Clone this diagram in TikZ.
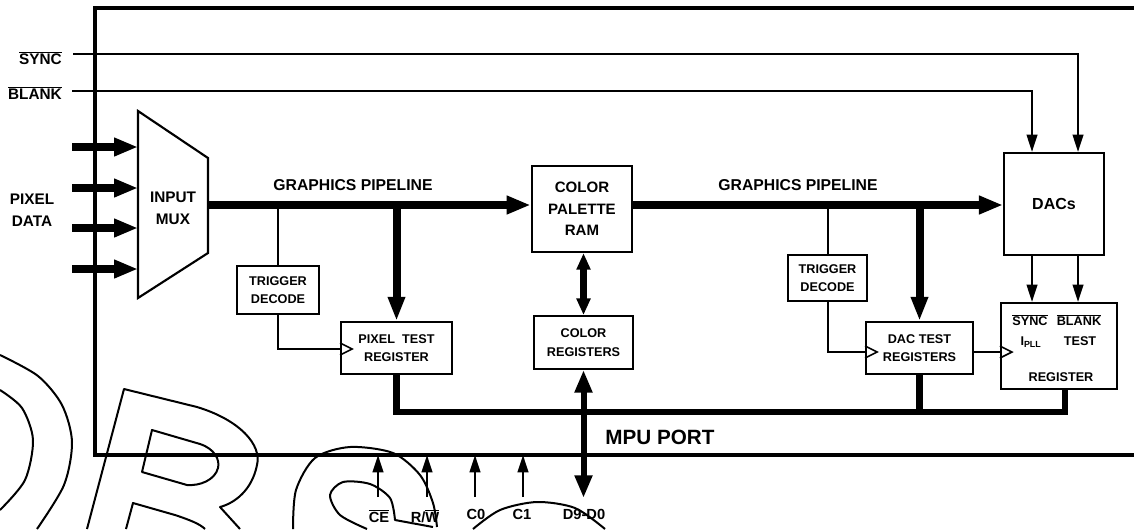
\documentclass[tikz,border=0pt]{standalone}
\usepackage{fontspec}
\setmainfont{Liberation Sans}
\usepackage{tikz}
\usetikzlibrary{arrows.meta,calc}
\newcommand{\ovl}[1]{\ensuremath{\overline{\mbox{#1}}}}

\begin{document}
\begin{tikzpicture}[x=0.75pt,y=-0.75pt,
  box/.style={draw, line width=1.6pt, inner sep=0pt, align=center, font=\bfseries\fontsize{9.5}{14}\selectfont},
  lbl/.style={inner sep=0pt, align=center, font=\bfseries\fontsize{11.5}{16.5}\selectfont},
  small/.style={inner sep=0pt, font=\bfseries\fontsize{9.5}{12}\selectfont},
  pin/.style={inner sep=0pt, font=\bfseries\fontsize{11}{12}\selectfont},
  sig/.style={line width=1.5pt},
  sigarr/.style={sig, -{Triangle[length=13pt,width=8pt]}},
  clk/.style={line width=1.2pt},
  bus/.style={line width=6pt},
  busarr/.style={bus, -{Triangle[length=18pt,width=13pt]}},
  mbus/.style={line width=5pt},
  frame/.style={line width=2.4pt},
  wm/.style={line width=1.5pt, line join=round}
]
\useasboundingbox (0,0) rectangle (1134,529);

% chip outline
\draw[frame] (1140,8) -- (95,8) -- (95,455) -- (1140,455);
\coordinate (fbot) at (95,455);

% input signals
\node[lbl, anchor=east] (sync) at (62,58) {\ovl{SYNC}};
\node[lbl, anchor=east] (blank) at (62,93) {\ovl{BLANK}};
\node[lbl] (pixdata) at (32,210) {PIXEL\\DATA};
\coordinate (syncin) at (73,54);
\coordinate (blankin) at (72,91);

% input mux
\coordinate (muxnw) at (138,111);
\draw[line width=1.6pt] (muxnw) -- (208,158) -- (208,253) -- (138,298) -- cycle;
\node[lbl] (mux) at (173,208) {INPUT\\MUX};
\coordinate (muxout) at (208,205);
\foreach \i/\yy in {1/147, 2/188, 3/228, 4/269} {
  \coordinate (pin\i) at (72,\yy);
  \draw[busarr] (pin\i) -- (pin\i -| muxnw);
}

% blocks
\node[box, minimum width=61.5pt, minimum height=36pt] (trigA) at (278,290) {TRIGGER\\DECODE};
\node[box, minimum width=83pt, minimum height=39pt] (pixtest) at (396.5,348) {PIXEL\ \ TEST\\REGISTER};
\node[box, minimum width=75.5pt, minimum height=64.5pt, font=\bfseries\fontsize{11.3}{16}\selectfont] (palette) at (582,209) {COLOR\\PALETTE\\RAM};
\node[box, minimum width=74pt, minimum height=39.5pt] (colreg) at (583.5,342.5) {COLOR\\REGISTERS};
\node[box, minimum width=59pt, minimum height=34.5pt] (trigB) at (827.5,278) {TRIGGER\\DECODE};
\node[box, minimum width=80pt, minimum height=39pt] (dactest) at (919.5,348) {DAC TEST\\REGISTERS};
\node[box, minimum width=75pt, minimum height=76.5pt, font=\bfseries\fontsize{12}{14}\selectfont] (dacs) at (1054,204) {DACs};
\node[box, minimum width=87pt, minimum height=64.5pt] (testreg) at (1059,346) {};
\node[small] (tsync) at (1030,320) {\ovl{SYNC}};
\node[small] (tblank) at (1079,320) {\ovl{BLANK}};
\node[small] (tpll) at (1031,342) {I\textsubscript{PLL}};
\node[small] (ttest) at (1080,341.5) {TEST};
\node[small] (treg) at (1061,377) {REGISTER};

\node[lbl, font=\bfseries\fontsize{11.8}{12}\selectfont] (pipeA) at (353,185) {GRAPHICS PIPELINE};
\node[lbl, font=\bfseries\fontsize{11.8}{12}\selectfont] (pipeB) at (798,185) {GRAPHICS PIPELINE};
\node[lbl, font=\bfseries\fontsize{15.5}{18}\selectfont] (mpu) at (660,437) {MPU PORT};

% graphics pipeline
\draw[busarr] (muxout) -- (muxout -| palette.west);
\draw[busarr] (palette.east |- muxout) -- (dacs.west |- muxout);
\draw[sig] (trigA.north |- muxout) -- (trigA.north);
\draw[bus, -{Triangle[length=18pt,width=12pt]}] (pixtest.north |- muxout) -- (pixtest.north);
\draw[sig] (trigB.north |- muxout) -- (trigB.north);
\draw[bus, -{Triangle[length=18pt,width=12pt]}] (dactest.north |- muxout) -- (dactest.north);
\draw[line width=5pt, {Triangle[length=12.5pt,width=10pt]}-{Triangle[length=12.5pt,width=10pt]}] (colreg.north |- palette.south) -- (colreg.north);

% sync and blank into the DACs
\draw[sigarr] (syncin) -| ($(dacs.north)+(24,0)$);
\draw[sigarr] (blankin) -| ($(dacs.north)+(-22,0)$);
\draw[sigarr] ($(dacs.south)+(-22,0)$) -- ($(testreg.north)+(-27,0)$);
\draw[sigarr] ($(dacs.south)+(24,0)$) -- ($(testreg.north)+(19,0)$);

% trigger lines with clock inputs
\coordinate (clkA) at ($(pixtest.west)+(0,1)$);
\coordinate (clkB) at ($(dactest.west)+(0,4)$);
\coordinate (clkC) at ($(dactest.east)+(0,4)$);
\draw[sig] (trigA.south) |- (clkA);
\draw[sig] (trigB.south) |- (clkB);
\draw[sig] (clkC) -- (clkC -| testreg.west);
\foreach \c in {clkA, clkB, clkC -| testreg.west}
  \draw[clk] ($(\c)+(0,-6)$) -- ++(12,6) -- ++(-12,6);

% MPU bus
\coordinate (mpubus) at (397,412);
\draw[mbus, line join=miter] (pixtest.south) -- (pixtest.south |- mpubus) -| ($(testreg.south)+(6,0)$);
\draw[mbus] (dactest.south) -- (dactest.south |- mpubus);

% MPU port pins
\node[pin] (ce) at (379,516) {\ovl{CE}};
\node[pin] (rw) at (425,516) {R/\ovl{W}};
\node[pin] (czero) at (476,514) {C0};
\node[pin] (cone) at (522,514) {C1};
\node[pin] (dpins) at (584,514) {D9-D0};
\foreach \p/\xx in {ce/378, rw/427, czero/475, cone/523} {
  \coordinate (\p-in) at (\xx,497);
  \draw[sigarr] (\p-in) -- (\p-in |- fbot);
}
\coordinate (dpins-in) at (583,498);
\draw[line width=4.5pt, {Triangle[length=17pt,width=12.5pt]}-{Triangle[length=17pt,width=12.5pt]}] (colreg.south) -- (colreg.south |- dpins-in);

% watermark outline
\draw[wm] plot[smooth] coordinates {(0,355) (38,376) (62,405) (72,442) (64,485) (37,529)};
\draw[wm] plot[smooth] coordinates {(0,390) (22,408) (33,440) (25,480) (0,510)};
\draw[wm] (87,529) -- (124,389) -- (197,407) .. controls (240,420) and (262,445) .. (257,465) .. controls (252,490) and (235,503) .. (220,507) -- (240,529);
\draw[wm] (152,430) -- (200,444) .. controls (215,449) and (220,460) .. (218,468) .. controls (215,480) and (200,486) .. (187,485) -- (142,472) -- cycle;
\draw[wm] (126,529) -- (133,503) -- (175,515) .. controls (190,520) and (200,524) .. (205,529);
\draw[wm] plot[smooth] coordinates {(293,529) (296,490) (315,458) (350,447) (393,453) (420,475) (433,503) (437,527)};
\draw[wm] plot[smooth] coordinates {(367,529) (340,515) (330,495) (343,482) (370,484) (390,498) (395,520)} -- (433,527);
\draw[wm] plot[smooth] coordinates {(473,529) (500,510) (537,502) (575,508) (605,529)};
\end{tikzpicture}
\end{document}
